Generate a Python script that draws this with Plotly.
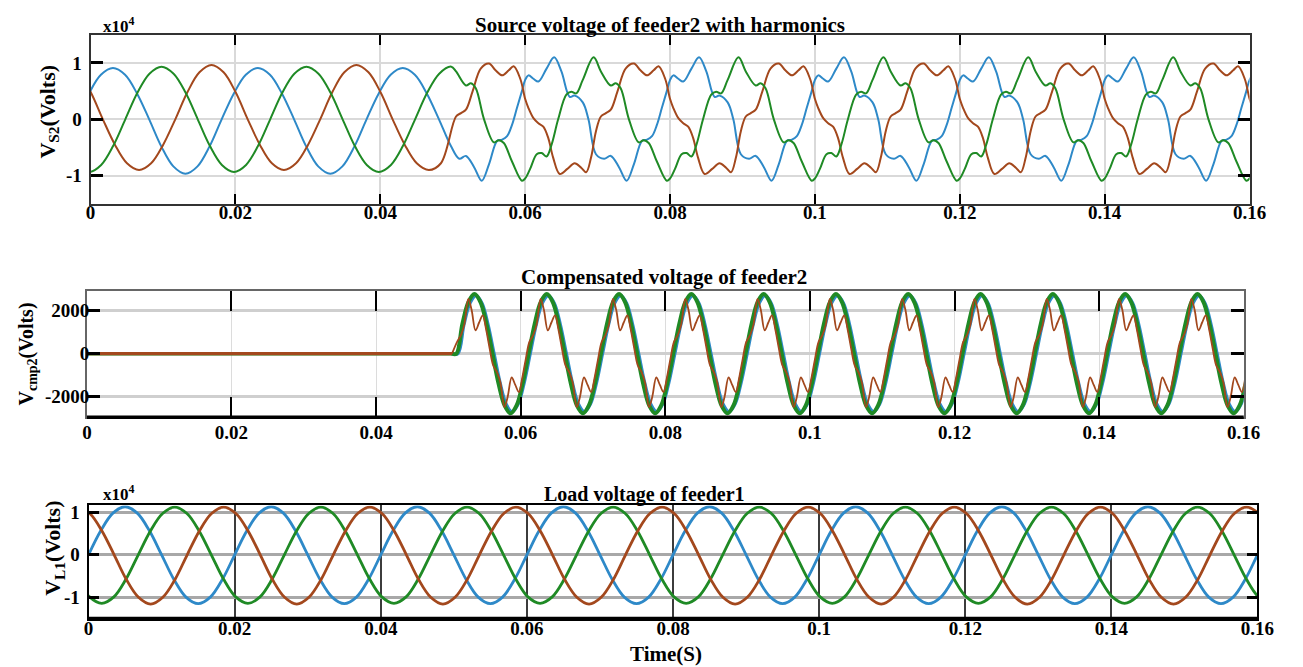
import plotly.graph_objects as go

W, H = 1303, 667
FONT = "Liberation Serif"
BLUE = "#2e89c8"
BROWN = "#a3481d"
GREEN = "#1f8a25"

# ---------------- common x axis ----------------
X_TICKS = [0, 0.02, 0.04, 0.06, 0.08, 0.10, 0.12, 0.14, 0.16]
X_TICK_TEXT = ["0", "0.02", "0.04", "0.06", "0.08", "0.1", "0.12", "0.14", "0.16"]

# ---------------- panel 1 : source voltage of feeder2 (x10^4 V) ----------------
# clean part (t < 0.05): one cycle read at 30 deg steps after each rising zero crossing
SINE_OFF_MS = [0.0, 1.667, 3.333, 5.0, 6.667, 8.333, 10.0, 11.667, 13.333, 15.0, 16.667, 18.333]
S2_BLUE_SINE = [0.0, 0.455, 0.79, 0.91, 0.79, 0.455, 0.0, -0.48, -0.835, -0.965, -0.835, -0.48]
S2_GREEN_SINE = [0.0, 0.47, 0.81, 0.935, 0.81, 0.47, 0.0, -0.47, -0.81, -0.935, -0.81, -0.47]
S2_BROWN_SINE = [0.0, 0.48, 0.835, 0.965, 0.835, 0.48, 0.0, -0.45, -0.78, -0.90, -0.78, -0.45]
S2_BLUE_SINE_STARTS = [-0.0219, -0.0019, 0.0181, 0.0381]
S2_GREEN_SINE_STARTS = [-0.0152, 0.0048, 0.0248, 0.0448]
S2_BROWN_SINE_STARTS = [-0.0083, 0.0117, 0.0317]

# distorted part (t >= 0.05): one cycle (ms after cycle start)
S2_HARM_STARTS = [0.04, 0.06, 0.08, 0.10, 0.12, 0.14, 0.16]
S2_BLUE_H_OFF = [0.0, 0.45, 1.14, 1.82, 2.95, 4.0, 5.0, 6.14, 6.82, 7.95, 8.73, 9.77,
                 10.9, 11.82, 12.95, 14.0, 15.0, 16.14, 16.82, 17.5, 18.18, 18.86, 19.55]
S2_BLUE_H = [0.70, 0.78, 0.72, 0.67, 0.90, 1.10, 0.85, 0.40, 0.42, 0.30, 0.0, -0.62,
             -0.70, -0.65, -0.85, -1.09, -0.80, -0.38, -0.36, -0.30, -0.10, 0.20, 0.50]
S2_GREEN_H_OFF = [0.0, 0.68, 1.59, 2.27, 2.95, 3.64, 4.55, 5.68, 6.36, 7.05, 7.95,
                  9.45, 10.45, 11.82, 12.5, 13.18, 14.32, 15.68, 16.36, 17.05, 18.18, 19.55]
S2_GREEN_H = [-1.05, -0.88, -0.62, -0.60, -0.66, -0.45, 0.0, 0.44, 0.49, 0.46, 0.70,
              1.10, 0.85, 0.60, 0.64, 0.55, 0.0, -0.41, -0.37, -0.42, -0.75, -1.09]
S2_BROWN_H_OFF = [0.0, 0.45, 1.14, 1.82, 2.5, 3.18, 3.86, 4.77, 5.82, 6.82, 7.73, 8.41,
                  9.09, 9.77, 10.45, 11.14, 11.82, 12.73, 13.86, 15.0, 15.91, 16.82,
                  17.73, 18.41, 19.32]
S2_BROWN_H = [0.36, 0.20, 0.02, -0.07, -0.13, -0.33, -0.68, -0.97, -0.88, -0.78, -0.86,
              -0.94, -0.68, -0.21, 0.05, 0.11, 0.17, 0.49, 0.90, 0.99, 0.87, 0.78, 0.87,
              0.94, 0.72]
HARM_ON = 0.05

# ---------------- panel 2 : compensated voltage of feeder2 (V) ----------------
CMP_FLAT_T = [0.0, 0.0505]
CMP_FLAT_V = [0.0, 0.0]
CMP_SINE_OFF_MS = [-2.5, -1.667, -0.833, 0.0, 0.833, 1.667, 2.5, 3.333, 4.167, 5.0, 5.833, 6.667]
CMP_GREEN = [0, 1385, 2400, 2770, 2400, 1385, 0, -1385, -2400, -2770, -2400, -1385]
CMP_BLUE = [0, 1350, 2340, 2700, 2340, 1350, 0, -1350, -2340, -2700, -2340, -1350]
CMP_GREEN_PEAKS = [0.0536, 0.0636, 0.0736, 0.0836, 0.0936, 0.1036, 0.1136, 0.1236,
                   0.1336, 0.1436, 0.1536, 0.1636]
CMP_BLUE_PEAKS = [0.0538, 0.0638, 0.0738, 0.0838, 0.0938, 0.1038, 0.1138, 0.1238,
                  0.1338, 0.1438, 0.1538, 0.1638]
CMP_BROWN_OFF_MS = [-0.85, -0.4, 0.15, 0.65, 1.15, 1.6, 2.1, 2.6, 3.15, 3.6, 4.15, 4.6,
                    5.15, 5.65, 6.15, 6.6, 7.1, 7.6, 8.15, 8.6]
CMP_BROWN = [2540, 2050, 1080, 1450, 1780, 1150, 250, -550, -880, -1350, -2480, -2000,
             -1100, -1450, -1780, -1150, -250, 550, 880, 1350]
CMP_BROWN_STARTS = [0.0436, 0.0536, 0.0636, 0.0736, 0.0836, 0.0936, 0.1036, 0.1136,
                    0.1236, 0.1336, 0.1436, 0.1536, 0.1636]

# ---------------- panel 3 : load voltage of feeder1 (x10^4 V) ----------------
L1_BLUE = [0.0, 0.565, 0.98, 1.13, 0.98, 0.565, 0.0, -0.575, -0.995, -1.15, -0.995, -0.575]
L1_GREEN = [0.0, 0.56, 0.97, 1.12, 0.97, 0.56, 0.0, -0.57, -0.99, -1.14, -0.99, -0.57]
L1_BROWN = [0.0, 0.56, 0.97, 1.12, 0.97, 0.56, 0.0, -0.58, -1.0, -1.16, -1.0, -0.58]
L1_BLUE_STARTS = [0.0, 0.02, 0.04, 0.06, 0.08, 0.10, 0.12, 0.14, 0.16]
L1_GREEN_STARTS = [-0.0132, 0.0068, 0.0268, 0.0468, 0.0668, 0.0868, 0.1068, 0.1268, 0.1468]
L1_BROWN_STARTS = [-0.0065, 0.0135, 0.0335, 0.0535, 0.0735, 0.0935, 0.1135, 0.1335, 0.1535]


def tile(starts, offs_ms, vals, t_lo=-1.0, t_hi=1.0):
    ts, vs = [], []
    for s in starts:
        for o, v in zip(offs_ms, vals):
            t = s + o / 1000.0
            if t_lo <= t <= t_hi:
                ts.append(t)
                vs.append(v)
    return ts, vs


def px_x(p):
    return p / W


def px_y(p):
    return 1 - p / H


fig = go.Figure()


def add(x, y, color, width, xa, ya, shape="spline"):
    fig.add_trace(go.Scatter(x=x, y=y, mode="lines", xaxis=xa, yaxis=ya,
                             line=dict(color=color, width=width, shape=shape),
                             showlegend=False, hoverinfo="skip"))


# panel 1
for sine, sstarts, hoff, hv, col in [
    (S2_BLUE_SINE, S2_BLUE_SINE_STARTS, S2_BLUE_H_OFF, S2_BLUE_H, BLUE),
    (S2_BROWN_SINE, S2_BROWN_SINE_STARTS, S2_BROWN_H_OFF, S2_BROWN_H, BROWN),
    (S2_GREEN_SINE, S2_GREEN_SINE_STARTS, S2_GREEN_H_OFF, S2_GREEN_H, GREEN),
]:
    t1, v1 = tile(sstarts, SINE_OFF_MS, sine, t_hi=HARM_ON - 1e-6)
    t2, v2 = tile(S2_HARM_STARTS, hoff, hv, t_lo=HARM_ON)
    add(t1 + t2, v1 + v2, col, 2.0, "x", "y")

# panel 2 : waves after the switch-on, then the flat (zero) parts on top
tb, vb = tile(CMP_BLUE_PEAKS, CMP_SINE_OFF_MS, CMP_BLUE, t_lo=0.0506)
add(CMP_FLAT_T[-1:] + tb, CMP_FLAT_V[-1:] + vb, BLUE, 3.5, "x2", "y2")
tg, vg = tile(CMP_GREEN_PEAKS, CMP_SINE_OFF_MS, CMP_GREEN, t_lo=0.0506)
add(CMP_FLAT_T[-1:] + tg, CMP_FLAT_V[-1:] + vg, GREEN, 4.0, "x2", "y2")
tr, vr = tile(CMP_BROWN_STARTS, CMP_BROWN_OFF_MS, CMP_BROWN, t_lo=0.0509)
add(CMP_FLAT_T[-1:] + tr, CMP_FLAT_V[-1:] + vr, BROWN, 1.8, "x2", "y2")
add(CMP_FLAT_T, CMP_FLAT_V, GREEN, 3.5, "x2", "y2", "linear")
add(CMP_FLAT_T, CMP_FLAT_V, BROWN, 3.2, "x2", "y2", "linear")

# panel 3
for vals, starts, col in [(L1_BLUE, L1_BLUE_STARTS, BLUE), (L1_GREEN, L1_GREEN_STARTS, GREEN),
                          (L1_BROWN, L1_BROWN_STARTS, BROWN)]:
    t, v = tile(starts, SINE_OFF_MS, vals)
    add(t, v, col, 2.8, "x3", "y3")

TICKFONT = dict(family=FONT, size=19, color="black", weight="bold")


def xaxis(dom, anchor, ticklen, tickwidth, gridcolor, gridwidth, linecolor, linewidth, standoff):
    return dict(domain=dom, anchor=anchor, range=[0, 0.16], tickmode="array",
                tickvals=X_TICKS, ticktext=X_TICK_TEXT, ticks="inside", ticklen=ticklen,
                tickwidth=tickwidth, tickcolor="black", showline=True, mirror="ticks",
                linecolor=linecolor, linewidth=linewidth, showgrid=True, gridcolor=gridcolor,
                gridwidth=gridwidth, zeroline=False, tickfont=TICKFONT,
                ticklabelstandoff=standoff)


def yaxis(dom, anchor, rng, tv, tt, ticklen, tickwidth, gridcolor, gridwidth, linecolor,
          linewidth, standoff):
    return dict(domain=dom, anchor=anchor, range=rng, tickmode="array", tickvals=tv,
                ticktext=tt, ticks="inside", ticklen=ticklen, tickwidth=tickwidth,
                tickcolor="black", showline=True, mirror="ticks", linecolor=linecolor,
                linewidth=linewidth, showgrid=True, gridcolor=gridcolor, gridwidth=gridwidth,
                zeroline=False, tickfont=TICKFONT, ticklabelstandoff=standoff)


fig.update_layout(
    width=W, height=H, margin=dict(l=0, r=0, t=0, b=0), autosize=False,
    paper_bgcolor="white", plot_bgcolor="white",
    xaxis=xaxis([px_x(87), px_x(1266)], "y", 10, 2, "#d9d9d9", 1.5, "#333333", 2, -10),
    yaxis=yaxis([px_y(201), px_y(31)], "x", [-1.5, 1.5], [-1, 0, 1], ["-1", "0", "1"],
                12, 2.5, "#d9d9d9", 1.5, "#333333", 2, 3),
    xaxis2=xaxis([px_x(83.3), px_x(1260)], "y2", 20, 2, "#dcdcdc", 1.2, "#666666", 1.5, -3),
    yaxis2=yaxis([px_y(415.7), px_y(289)], "x2", [-2950, 2900], [-2000, 0, 2000],
                 ["-2000", "0", "2000"], 13, 3, "#cfcfcf", 3, "#666666", 1.5, -8),
    xaxis3=xaxis([px_x(85), px_x(1274)], "y3", 0, 1, "#3c3c3c", 1.5, "black", 2, -8),
    yaxis3=yaxis([px_y(618.3), px_y(504.5)], "x3", [-1.5, 1.16], [-1, 0, 1], ["-1", "0", "1"],
                 10, 3, "#a8a8a8", 3, "black", 2, 3),
)

# thick bottom frame lines (panels 2 and 3)
for xr, yr in [("x2 domain", "y2 domain"), ("x3 domain", "y3 domain")]:
    fig.add_shape(type="line", xref=xr, yref=yr, x0=0, x1=1, y0=0, y1=0,
                  line=dict(color="black", width=3.5), layer="above")

TF = dict(family=FONT, color="black", weight="bold")
ann = [
    ("Source voltage of feeder2 with harmonics", 666, 21, 21, 0),
    ("Compensated voltage of feeder2", 670, 275, 21, 0),
    ("Load voltage of feeder1", 650, 493, 20, 0),
    ("x10<sup>4</sup>", 116, 21, 17, 0),
    ("x10<sup>4</sup>", 116, 492, 17, 0),
    ("Time(S)", 672, 654, 21, 0),
    ("V<sub>S2</sub>(Volts)", 45, 108, 22, -90),
    ("V<sub>cmp2</sub>(Volts)", 23, 352, 20, -90),
    ("V<sub>L1</sub>(Volts)", 50, 548, 22, -90),
]
for text, x, y, size, ang in ann:
    fig.add_annotation(text=text, x=px_x(x), y=px_y(y), xref="paper", yref="paper",
                       showarrow=False, textangle=ang, xanchor="center", yanchor="middle",
                       font=dict(size=size, **TF))

fig.write_html("out.html")
